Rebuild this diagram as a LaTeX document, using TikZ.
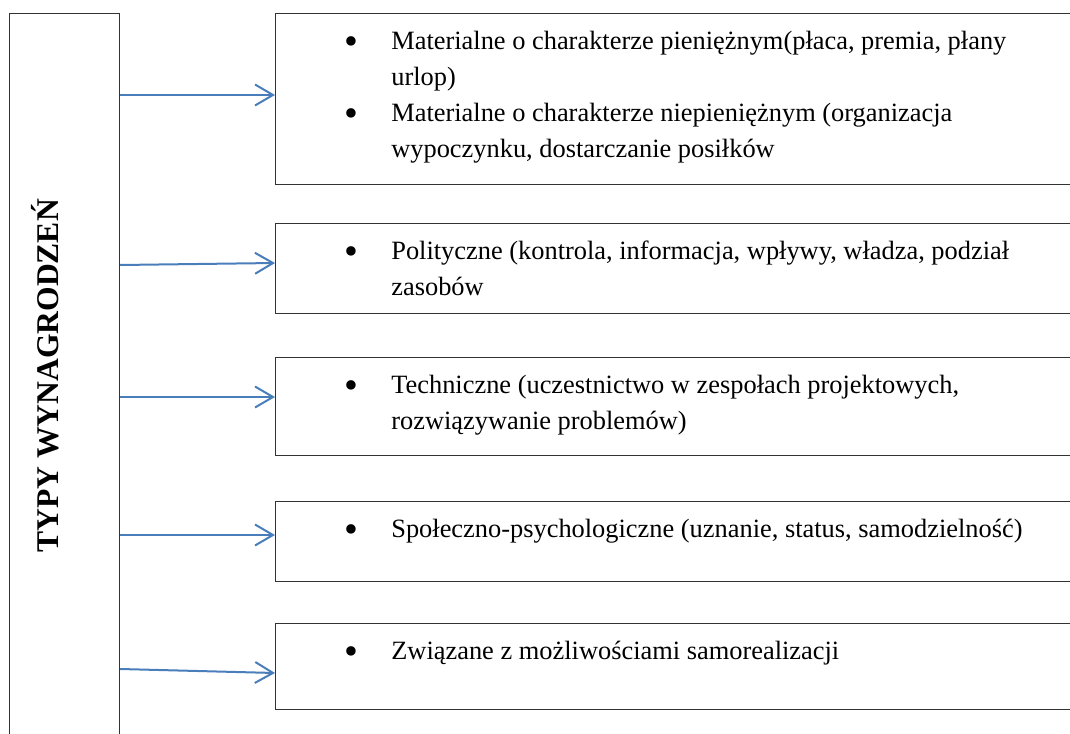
\documentclass[tikz,border=0pt]{standalone}
\usepackage{fontspec}
\setmainfont{Liberation Serif}
\usepackage{xcolor}
\usepackage{tikz}
\usetikzlibrary{positioning}
\usetikzlibrary{arrows.meta}
\definecolor{linkblue}{RGB}{74,126,187}
\tikzstyle{mainbox}=[rectangle,draw=black!80,line width=0.9pt,anchor=north west,minimum width=82.5pt,minimum height=600pt,inner sep=0pt]
\tikzstyle{itembox}=[rectangle,draw=black!80,line width=0.9pt,anchor=north west,minimum width=615pt,inner sep=0pt]
\tikzstyle{itemtext}=[align=left,inner sep=0pt,font=\fontsize{19.8}{27}\selectfont]
\tikzstyle{link}=[draw=linkblue,line width=1.5pt,-{Straight Barb[length=13.5pt,width=15.75pt]}]
\newcommand{\bul}{\strut\makebox[35.25pt][l]{\raisebox{-0.16em}{\scalebox{1.5}{\textbullet}}}}
\newcommand{\ind}{\strut\hspace*{35.25pt}}

\begin{document}
\begin{tikzpicture}[x=0.75pt,y=-0.75pt]
 \def\u{0.75}
 \useasboundingbox (0,0) rectangle (1070,734);
 \clip (0,0) rectangle (1070,734);

 %left box
 \node[mainbox] (types) at (9,13) {};
 \node[rotate=90,anchor=base,inner sep=0pt,font=\fontsize{23.7}{28}\selectfont\bfseries] (title) at (58,376) {TYPY WYNAGRODZEŃ};

 %boxes
 \foreach \y/\h/\name in {13/171/box1, 223/90/box2, 357/98/box3, 501/80/box4, 623/86/box5}
   \node[itembox, minimum height=\h*\u pt] (\name) at (275,\y) {};

 %texts
 \node[itemtext, below right=8.6pt and 51.8pt of box1.north west] (txt1)
   {\bul Materialne o charakterze pieniężnym(płaca, premia, płany\\
    \ind urlop)\\
    \bul Materialne o charakterze niepieniężnym (organizacja\\
    \ind wypoczynku, dostarczanie posiłków};
 \node[itemtext, below right=8.6pt and 51.8pt of box2.north west] (txt2)
   {\bul Polityczne (kontrola, informacja, wpływy, władza, podział\\
    \ind zasobów};
 \node[itemtext, below right=8.6pt and 51.8pt of box3.north west] (txt3)
   {\bul Techniczne (uczestnictwo w zespołach projektowych,\\
    \ind rozwiązywanie problemów)};
 \node[itemtext, below right=8.6pt and 51.8pt of box4.north west] (txt4)
   {\bul Społeczno-psychologiczne (uznanie, status, samodzielność)};
 \node[itemtext, below right=8.6pt and 51.8pt of box5.north west] (txt5)
   {\bul Związane z możliwościami samorealizacji};

 %links
 \foreach \name/\ys/\ye in {box1/95/95, box2/265/263, box3/397/397, box4/535/535, box5/669/673}
   \draw[link] (types.east |- 0,\ys) -- (\name.west |- 0,\ye);

\end{tikzpicture}
\end{document}
